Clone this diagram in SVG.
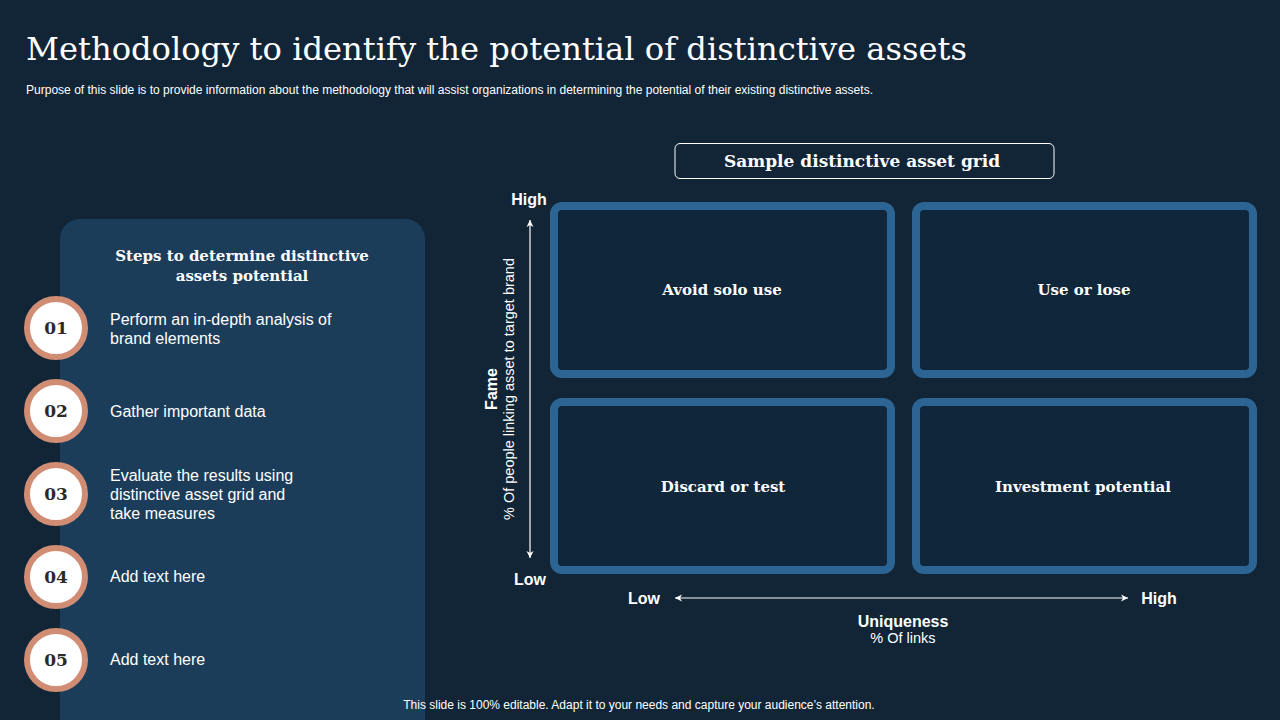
<svg xmlns="http://www.w3.org/2000/svg" width="1280" height="720" viewBox="0 0 1280 720">
<defs>
<style>
.serif{font-family:"DejaVu Serif","Liberation Serif",serif;}
.sans{font-family:"Liberation Sans",Arial,sans-serif;}
.white{fill:#ffffff;}
.num{font-family:"DejaVu Serif","Liberation Serif",serif;font-weight:bold;font-size:17px;fill:#2a2a2a;text-anchor:middle;}
.step{font-family:"Liberation Sans",Arial,sans-serif;font-size:16px;fill:#ffffff;}
.ring{fill:#ffffff;stroke:#d08d74;stroke-width:6;}
.cell{fill:#10263a;stroke:#2c6593;stroke-width:8;}
.cellLabel{font-family:"DejaVu Serif","Liberation Serif",serif;font-weight:bold;font-size:15px;fill:#ffffff;text-anchor:middle;}
.axis{stroke:#ffffff;stroke-width:1.2;fill:none;}
.axLbl{font-family:"Liberation Sans",Arial,sans-serif;font-weight:bold;font-size:16px;fill:#ffffff;text-anchor:middle;}
</style>
<marker id="arr" markerWidth="10" markerHeight="10" refX="8" refY="5" orient="auto-start-reverse" markerUnits="userSpaceOnUse">
<path d="M1,1.5 L8,5 L1,8.5 L3,5 Z" fill="#ffffff"/>
</marker>
</defs>
<rect width="1280" height="720" fill="#112537"/>

<g id="title">
<text class="serif white" x="26" y="60" font-size="32" textLength="941" lengthAdjust="spacingAndGlyphs">Methodology to identify the potential of distinctive assets</text>
<text class="sans white" x="26" y="94" font-size="12" textLength="847" lengthAdjust="spacingAndGlyphs">Purpose of this slide is to provide information about the methodology that will assist organizations in determining the potential of their existing distinctive assets.</text>
</g>

<g id="steps-panel">
<rect x="60" y="219" width="365" height="540" rx="20" fill="#1b3d5a"/>
<text class="serif white" x="242" y="261" font-size="15" font-weight="bold" text-anchor="middle">Steps to determine distinctive</text>
<text class="serif white" x="242" y="281" font-size="15" font-weight="bold" text-anchor="middle">assets potential</text>
</g>

<g id="step1">
<circle class="ring" cx="56" cy="328" r="29"/>
<text class="num" x="56" y="334">01</text>
<text class="step" x="110" y="325">Perform an in-depth analysis of</text>
<text class="step" x="110" y="344">brand elements</text>
</g>
<g id="step2">
<circle class="ring" cx="56" cy="411" r="29"/>
<text class="num" x="56" y="417">02</text>
<text class="step" x="110" y="417">Gather important data</text>
</g>
<g id="step3">
<circle class="ring" cx="56" cy="494" r="29"/>
<text class="num" x="56" y="500">03</text>
<text class="step" x="110" y="481">Evaluate the results using</text>
<text class="step" x="110" y="500">distinctive asset grid and</text>
<text class="step" x="110" y="519">take measures</text>
</g>
<g id="step4">
<circle class="ring" cx="56" cy="577" r="29"/>
<text class="num" x="56" y="583">04</text>
<text class="step" x="110" y="582">Add text here</text>
</g>
<g id="step5">
<circle class="ring" cx="56" cy="660" r="29"/>
<text class="num" x="56" y="666">05</text>
<text class="step" x="110" y="665">Add text here</text>
</g>

<g id="grid-header">
<rect x="675" y="143.5" width="379" height="35" rx="5" fill="none" stroke="#ffffff" stroke-width="1"/>
<text class="serif white" x="862" y="167" font-size="17" font-weight="bold" text-anchor="middle">Sample distinctive asset grid</text>
</g>

<g id="cell-avoid">
<rect class="cell" x="554" y="206" width="337" height="168" rx="8"/>
<text class="cellLabel" x="722" y="295">Avoid solo use</text>
</g>
<g id="cell-use">
<rect class="cell" x="916" y="206" width="337" height="168" rx="8"/>
<text class="cellLabel" x="1084" y="295">Use or lose</text>
</g>
<g id="cell-discard">
<rect class="cell" x="554" y="402" width="337" height="168" rx="8"/>
<text class="cellLabel" x="723" y="492">Discard or test</text>
</g>
<g id="cell-invest">
<rect class="cell" x="916" y="402" width="337" height="168" rx="8"/>
<text class="cellLabel" x="1083" y="492">Investment potential</text>
</g>

<g id="connectors">
<line class="axis" x1="530" y1="220" x2="530" y2="558" marker-start="url(#arr)" marker-end="url(#arr)"/>
<line class="axis" x1="675" y1="598" x2="1128" y2="598" marker-start="url(#arr)" marker-end="url(#arr)"/>
</g>

<g id="axis-labels">
<text class="axLbl" x="529" y="205">High</text>
<text class="axLbl" x="530" y="585">Low</text>
<text class="axLbl" x="644" y="604">Low</text>
<text class="axLbl" x="1159" y="604">High</text>
<text class="axLbl" x="903" y="627">Uniqueness</text>
<text class="sans white" x="903" y="643" font-size="14.5" text-anchor="middle">% Of links</text>
<text class="axLbl" transform="translate(497,389) rotate(-90)" x="0" y="0">Fame</text>
<text class="sans white" transform="translate(514,389) rotate(-90)" x="0" y="0" font-size="14.5" text-anchor="middle">% Of people linking  asset to target brand</text>
</g>

<g id="footer">
<text class="sans white" x="639" y="709" font-size="12" text-anchor="middle">This slide is 100% editable. Adapt it to your needs and capture your audience’s attention.</text>
</g>
</svg>
